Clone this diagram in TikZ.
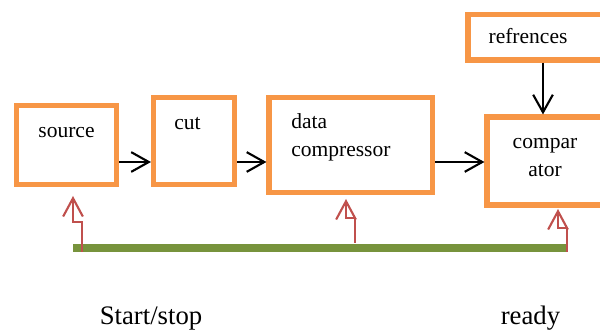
\documentclass[tikz,border=0pt]{standalone}
\usepackage{fontspec}
\setmainfont{Liberation Serif}
\usetikzlibrary{arrows.meta}

\definecolor{boxorange}{HTML}{F79646}
\definecolor{busgreen}{HTML}{77933C}
\definecolor{sigred}{HTML}{C0504D}

\begin{document}
\begin{tikzpicture}[x=0.025cm, y=-0.025cm,
            block/.style={draw=boxorange, line width=3.6pt, inner sep=0pt},
            lbl/.style={inner sep=0pt, font=\fontsize{15.3}{20}\selectfont},
            flow/.style={line width=1.5pt, -{Straight Barb[length=12.5pt, width=14pt, line width=1.5pt]}},
            sig/.style={draw=sigred, line width=1.5pt, -{Straight Barb[length=13pt, width=14pt, line width=1.5pt]}},
            ]
            \clip (0,0) rectangle (600,333);

            % blocks
            \node[block, minimum width=2.5cm, minimum height=1.975cm] (source) at (66.5,145) {};
            \node[block, minimum width=2.025cm, minimum height=2.175cm] (cut) at (194,141) {};
            \node[block, minimum width=4.0875cm, minimum height=2.375cm] (compressor) at (350.75,145) {};
            \node[block, minimum width=3.125cm, minimum height=2.2cm] (comparator) at (549.5,161) {};
            \node[block, minimum width=3.6cm, minimum height=1.1375cm] (refs) at (540,37.25) {};

            % texts
            \node[lbl, anchor=base] (source-txt) at (66.5,138) {source};
            \node[lbl, anchor=base] (cut-txt) at (187.5,130) {cut};
            \node[lbl, anchor=base west, align=left] (compressor-txt) at (291,157) {data\\compressor};
            \node[lbl, anchor=base, align=center] (comparator-txt) at (545,177) {compar\\ator};
            \node[lbl, anchor=base] (refs-txt) at (528,44) {refrences};

            % data flow
            \draw[flow] (source.east |- 0,162) -- (cut.west |- 0,162);
            \draw[flow] (cut.east |- 0,162) -- (compressor.west |- 0,162);
            \draw[flow] (compressor.east |- 0,162) -- (comparator.west |- 0,162);
            \draw[flow] (refs.south -| 543,0) -- (comparator.north -| 543,0);

            % control bus
            \coordinate (bus-l) at (73,248);
            \coordinate (bus-r) at (568,248);
            \draw[busgreen, line width=5.7pt] (bus-l) -- (bus-r);

            \coordinate (start) at (82,252);
            \coordinate (mid) at (355,243);
            \coordinate (end) at (567,252);
            \draw[sig] (start) |- (73,222) -- (73,196);
            \draw[sig] (mid) |- (346,218) -- (346,199);
            \draw[sig] (end) |- (558,228) -- (558,209);

            \node[inner sep=0pt, font=\fontsize{19}{22}\selectfont, anchor=base] (startstop) at (151,325) {Start/stop};
            \node[inner sep=0pt, font=\fontsize{19}{22}\selectfont, anchor=base] (ready) at (530.5,325) {ready};
        \end{tikzpicture}
\end{document}
